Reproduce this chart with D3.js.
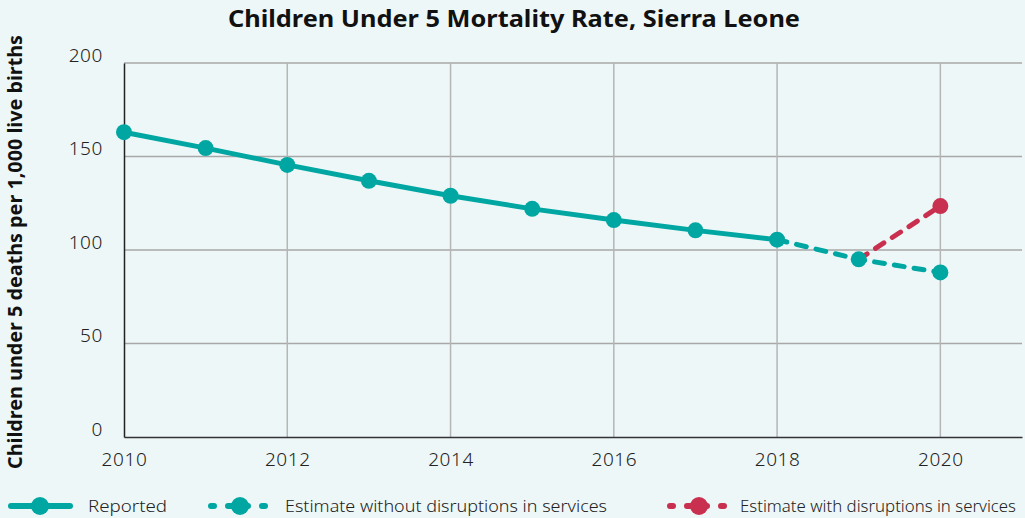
<!DOCTYPE html>
<html><head><meta charset="utf-8">
<script src="https://cdn.jsdelivr.net/npm/d3@7"></script>
<style>
html,body{margin:0;padding:0;background:#eef7f8;}
svg{display:block;font-family:"Noto Sans","Lato",sans-serif;}
</style></head><body>
<svg id="c" width="1025" height="518"></svg>
<script>
const years = [2010,2011,2012,2013,2014,2015,2016,2017,2018];
const reported = [163,154.5,145.5,137,129,122,116,110.5,105.5];
const estYears = [2018,2019,2020];
const estWithout = [105.5,95,88];
const disYears = [2019,2020];
const estWith = [95,123.5];
const xTicks = [2010,2012,2014,2016,2018,2020];
const yTicks = [0,50,100,150,200];
const legendLabels = ["Reported","Estimate without disruptions in services","Estimate with disruptions in services"];

const teal = "#00a7a2", red = "#c9304f";
const svg = d3.select("#c");
svg.append("rect").attr("width",1025).attr("height",518).attr("fill","#eef7f8");
const x = d3.scaleLinear().domain([2010,2021]).range([124,1022]);
const y = d3.scaleLinear().domain([0,200]).range([437,63]);

// grid
svg.append("g").selectAll("line").data(yTicks.filter(d=>d>0)).join("line")
  .attr("x1",x(2010)).attr("x2",x(2021)).attr("y1",d=>y(d)).attr("y2",d=>y(d))
  .attr("stroke","#a8a8a8").attr("stroke-width",1.5);
svg.append("g").selectAll("line").data(xTicks.filter(d=>d>2010)).join("line")
  .attr("x1",d=>x(d)).attr("x2",d=>x(d)).attr("y1",y(0)).attr("y2",y(200))
  .attr("stroke","#b5b5b5").attr("stroke-width",1.5);

// axes
const xa = svg.append("g").attr("transform",`translate(0,${y(0)})`)
  .call(d3.axisBottom(x).tickValues(xTicks).tickFormat(d3.format("d")).tickSize(0).tickPadding(16));
xa.select(".domain").attr("stroke","#333").attr("stroke-width",1.5);
const ya = svg.append("g").attr("transform",`translate(${x(2010)},0)`)
  .call(d3.axisLeft(y).tickValues(yTicks).tickSize(0).tickPadding(21));
ya.select(".domain").attr("stroke","#222").attr("stroke-width",1.5);
svg.selectAll(".tick text").attr("font-size",19).attr("fill","#222")
  .attr("font-family","'Noto Sans',sans-serif").attr("font-weight",300).attr("letter-spacing","0.6px");
ya.selectAll(".tick text").attr("dy","-0.1em");

// lines
const line = d3.line().x(d=>x(d[0])).y(d=>y(d[1]));
svg.append("path").datum(disYears.map((d,i)=>[d,estWith[i]]))
  .attr("d",line).attr("fill","none").attr("stroke",red).attr("stroke-width",5)
  .attr("stroke-dasharray","10,10").attr("stroke-linecap","round");
svg.append("path").datum(estYears.map((d,i)=>[d,estWithout[i]]))
  .attr("d",line).attr("fill","none").attr("stroke",teal).attr("stroke-width",5)
  .attr("stroke-dasharray","10,10").attr("stroke-linecap","round");
svg.append("path").datum(years.map((d,i)=>[d,reported[i]]))
  .attr("d",line).attr("fill","none").attr("stroke",teal).attr("stroke-width",5);

svg.append("g").selectAll("circle").data(years.map((d,i)=>[d,reported[i]])).join("circle")
  .attr("cx",d=>x(d[0])).attr("cy",d=>y(d[1])).attr("r",8).attr("fill",teal);
svg.append("g").selectAll("circle").data(estYears.slice(1).map((d,i)=>[d,estWithout[i+1]])).join("circle")
  .attr("cx",d=>x(d[0])).attr("cy",d=>y(d[1])).attr("r",8).attr("fill",teal);
svg.append("circle").attr("cx",x(disYears[1])).attr("cy",y(estWith[1])).attr("r",8).attr("fill",red);

// title
svg.append("text").attr("x",514).attr("y",27).attr("text-anchor","middle")
  .attr("font-size",24).attr("font-weight",700).attr("fill","#111")
  .attr("textLength",572).attr("lengthAdjust","spacingAndGlyphs")
  .text("Children Under 5 Mortality Rate, Sierra Leone");
// y label
svg.append("text").attr("transform",`translate(22,252) rotate(-90)`).attr("text-anchor","middle")
  .attr("font-size",19).attr("font-weight",700).attr("fill","#111")
  .attr("textLength",434).attr("lengthAdjust","spacingAndGlyphs")
  .text("Children under 5 deaths per 1,000 live births");

// legend
const leg = [
  {x0:8, color:teal, dash:null, tx:88, w:79},
  {x0:208, color:teal, dash:"10,10", tx:285, w:322},
  {x0:667, color:red, dash:"10,10", tx:740, w:276}
];
const ly = 506;
leg.forEach((l,i)=>{
  const g = svg.append("g");
  g.append("line").attr("x1",l.x0+3).attr("x2",l.x0+62).attr("y1",ly).attr("y2",ly)
    .attr("stroke",l.color).attr("stroke-width",6).attr("stroke-linecap","round")
    .attr("stroke-dasharray",l.dash?"3,14":null);
  g.append("circle").attr("cx",l.x0+32).attr("cy",ly).attr("r",9).attr("fill",l.color);
  g.append("text").attr("x",l.tx).attr("y",ly+6).attr("font-size",17).attr("font-weight",300)
    .attr("fill","#222").attr("textLength",l.w).attr("lengthAdjust","spacingAndGlyphs")
    .text(legendLabels[i]);
});
</script></body></html>
